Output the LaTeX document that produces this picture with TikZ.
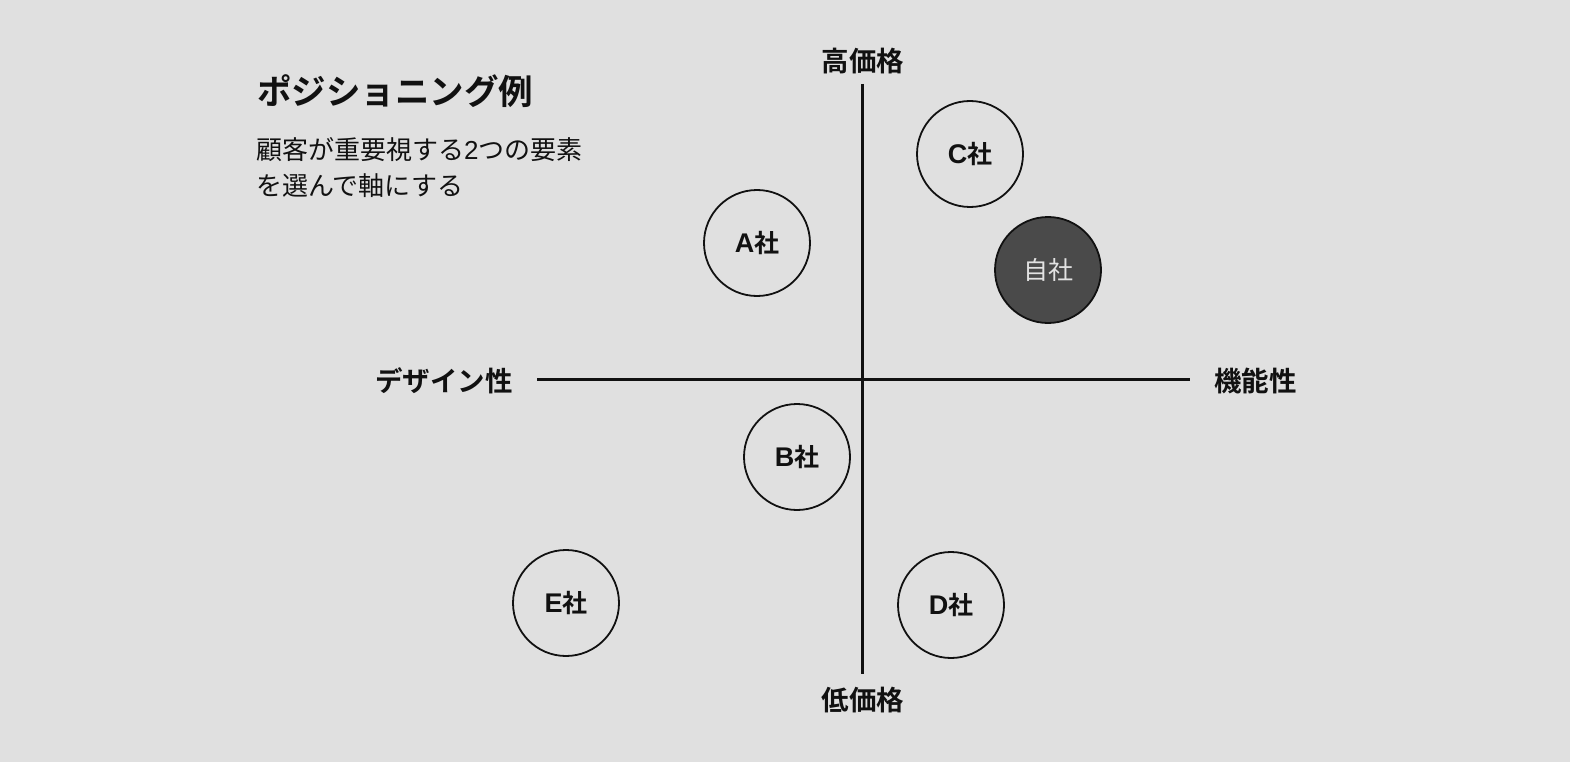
\documentclass[tikz,border=0pt]{standalone}
\usepackage{fontspec}
\setmainfont{Noto Sans CJK JP}[BoldFont={Noto Sans CJK JP Bold}]
\newfontfamily\lat{Liberation Sans}
\definecolor{bg}{HTML}{E0E0E0}
\definecolor{ink}{HTML}{111111}
\definecolor{selffill}{HTML}{4A4A4A}
\definecolor{selftext}{HTML}{E2E2E2}
\newcommand{\firmname}[1]{{\lat\fontsize{27}{30}\selectfont\bfseries #1}社}
\begin{document}
\begin{tikzpicture}[x=1pt,y=-1pt,
  axis/.style={draw=ink,line width=3pt},
  axlabel/.style={font=\fontsize{27.5}{30}\selectfont\bfseries,text=ink,inner sep=0pt},
  firm/.style={circle,draw=ink,line width=1.8pt,minimum size=106pt,inner sep=0pt,font=\fontsize{25}{28}\selectfont\bfseries,text=ink},
  selffirm/.style={firm,fill=selffill,text=selftext,font=\fontsize{25}{28}\selectfont}
]
\fill[bg] (0,0) rectangle (1570,762);
\useasboundingbox (0,0) rectangle (1570,762);
% axes
\coordinate (top) at (862,84);
\coordinate (bot) at (862,674);
\coordinate (lft) at (537,379);
\coordinate (rgt) at (1190,379);
\draw[axis] (top) -- (bot);
\draw[axis] (lft) -- (rgt);
% axis labels
\node[axlabel] (hi) at (863,61) {高価格};
\node[axlabel] (lo) at (863,700) {低価格};
\node[axlabel,anchor=east] (des) at (513,381) {デザイン性};
\node[axlabel,anchor=west] (fun) at (1214,381) {機能性};
% title
\node[anchor=west,inner sep=0pt,text=ink,font=\fontsize{34.5}{38}\selectfont\bfseries] (title) at (257,91) {ポジショニング例};
\node[anchor=north west,inner sep=0pt,text=ink,align=left,font=\fontsize{26}{36}\selectfont] (sub) at (256,137) {顧客が重要視する{\lat 2}つの要素\\を選んで軸にする};
% firms
\node[firm] (C) at (970,154) {\firmname{C}};
\node[firm] (A) at (757,243) {\firmname{A}};
\node[selffirm] (S) at (1048,270) {自社};
\node[firm] (B) at (797,457) {\firmname{B}};
\node[firm] (E) at (566,603) {\firmname{E}};
\node[firm] (D) at (951,605) {\firmname{D}};
\end{tikzpicture}
\end{document}
